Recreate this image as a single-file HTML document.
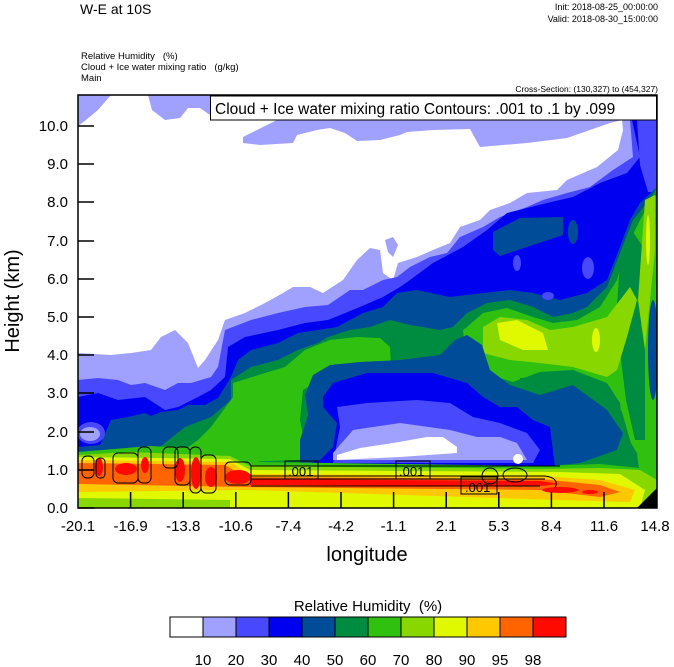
<!DOCTYPE html>
<html><head><meta charset="utf-8"><style>
html,body{margin:0;padding:0;background:#fff;}
svg{display:block;font-family:"Liberation Sans",sans-serif;}
</style></head><body>
<svg width="674" height="667" viewBox="0 0 674 667" xmlns="http://www.w3.org/2000/svg">
<defs><clipPath id="pc"><rect x="78" y="95" width="579" height="413"/></clipPath></defs>
<text x="80" y="14" font-size="14">W-E at 10S</text>
<text x="658" y="10" font-size="9" text-anchor="end">Init: 2018-08-25_00:00:00</text>
<text x="658" y="22" font-size="9" text-anchor="end">Valid: 2018-08-30_15:00:00</text>
<text x="81" y="59" font-size="9.5">Relative Humidity&#160;&#160;&#160;(%)</text>
<text x="81" y="70" font-size="9.5">Cloud + Ice water mixing ratio&#160;&#160;&#160;(g/kg)</text>
<text x="81" y="81" font-size="9.5">Main</text>
<text x="658" y="92" font-size="8.5" text-anchor="end">Cross-Section: (130,327) to (454,327)</text>

<g clip-path="url(#pc)">
<rect x="78" y="95" width="579" height="413" fill="#a0a0ff"/>
<polygon fill="#ffffff" points="111,95 98,110 86,120 78,126 78,353 111,355 131,353 151,350 161,337 175,330 188,343 198,368 205,360 218,340 225,320 245,313 265,303 283,293 293,287 310,287 323,293 343,280 357,260 370,248 380,250 383,273 393,280 398,263 417,257 433,250 450,243 460,227 480,220 490,210 510,203 527,193 557,190 567,180 597,167 618,150 623,130 622,120 610,123 567,138 527,143 480,147 470,129 433,130 407,132 400,135 380,140 357,141 345,133 330,128 317,130 297,135 293,143 260,145 243,143 243,137 257,130 277,120 260,118 210,115 200,108 188,108 180,118 165,120 152,110 148,95"/>
<polygon fill="#a0a0ff" points="385,240 393,237 398,245 393,257 388,252"/>
<polygon fill="#4848ff" points="78,380 98,378 118,380 131,385 145,383 165,390 178,383 191,383 211,377 218,367 225,330 251,320 278,313 305,307 328,305 350,290 363,290 383,280 397,277 410,267 430,257 447,253 460,237 483,227 500,217 527,207 543,200 567,193 590,187 613,170 633,157 630,120 632,95 700,95 700,520 78,520"/>
<polygon fill="#0000f0" points="78,397 98,393 118,400 145,397 165,410 178,407 198,397 211,390 225,377 228,347 245,337 278,330 305,323 328,320 360,307 383,297 400,287 410,280 433,263 463,247 487,230 507,213 547,203 573,197 600,183 627,173 640,157 632,120 630,95 700,95 700,520 78,520"/>
<polygon fill="#4848ff" points="637,120 657,120 657,192 648,192 640,165"/>
<polygon fill="#004c98" points="78,447 100,445 111,420 128,417 145,413 151,416 161,412 178,410 188,405 205,405 218,398 231,377 238,360 251,350 278,343 298,333 318,330 337,327 363,313 383,307 397,293 417,290 450,297 483,293 510,290 533,293 560,300 587,293 607,280 620,247 630,220 640,203 657,187 700,180 700,520 78,520"/>
<ellipse cx="91" cy="433" rx="14" ry="11" fill="#4848ff"/>
<ellipse cx="90" cy="434" rx="10" ry="7" fill="#a0a0ff"/>
<polygon fill="#004c98" points="493,232 520,218 563,217 563,235 530,246 500,256 493,250"/>
<ellipse cx="573" cy="232" rx="5" ry="12" fill="#004c98"/>
<ellipse cx="517" cy="263" rx="4" ry="8" fill="#4848ff"/>
<ellipse cx="588" cy="268" rx="6" ry="11" fill="#4848ff"/>
<ellipse cx="548" cy="296" rx="6" ry="4" fill="#4848ff"/>
<polygon fill="#008c40" points="150,455 185,427 211,417 231,400 231,380 251,367 278,360 298,350 318,343 328,337 350,330 370,327 390,320 410,325 440,330 453,327 467,313 487,303 510,300 533,307 553,317 573,313 587,307 607,287 620,253 633,220 647,203 657,187 700,180 700,520 150,520"/>
<polygon fill="#30c010" points="170,460 198,440 211,427 233,397 233,383 265,373 285,367 305,350 330,340 357,337 380,338 390,347 391,367 380,373 344,373 319,380 303,390 300,420 305,445 300,460 240,462"/>
<polygon fill="#30c010" points="463,330 467,327 483,313 507,308 533,317 553,323 577,320 600,307 617,280 627,247 640,220 653,197 657,195 657,508 640,490 640,477 637,453 623,430 620,403 607,383 573,370 540,372 513,382 480,372 465,350"/>
<polygon fill="#008c40" points="620,262 633,232 645,250 645,440 635,440 626,400 616,320"/>
<polygon fill="#008c40" points="520,378 573,376 607,392 622,412 630,440 640,470 625,470 615,450 600,425 573,398 520,392"/>
<ellipse cx="653" cy="350" rx="5" ry="50" fill="#004c98"/>
<polygon fill="#88d800" points="483,327 500,317 527,320 550,330 573,327 607,317 630,287 637,300 627,337 617,370 607,377 573,367 540,363 510,360 483,353"/>
<polygon fill="#88d800" points="645,200 655,195 655,250 650,300 645,350 638,300"/>
<polygon fill="#e0f800" points="497,323 517,320 543,333 548,350 523,350 500,340"/>
<ellipse cx="596" cy="340" rx="4" ry="12" fill="#e0f800"/>
<ellipse cx="648" cy="240" rx="2" ry="25" fill="#e0f800"/>
<polygon fill="#004c98" points="305,395 313,375 330,365 360,362 400,360 440,355 455,340 467,335 482,345 490,370 510,385 540,395 573,385 607,410 623,433 617,450 580,463 540,467 300,467 300,440 308,415"/>
<polygon fill="#0000f0" points="323,397 333,383 367,373 400,373 433,373 467,383 483,397 500,407 517,407 533,420 550,427 555,467 300,466 320,460 333,447 337,423 323,407"/>
<polygon fill="#4848ff" points="337,407 367,403 417,400 450,403 473,417 500,423 527,433 540,450 533,463 333,463 340,427"/>
<polygon fill="#a0a0ff" points="353,430 400,423 450,430 477,437 500,437 517,443 527,460 333,460 333,453"/>
<polygon fill="#ffffff" points="337,455 360,448 393,443 427,437 443,437 457,447 457,453 400,457 337,460"/>
<circle cx="518" cy="459" r="5" fill="#fff"/>
<polygon fill="#30c010" points="78,452 150,446 230,450 260,462 540,466 600,464 640,468 657,478 657,508 78,508"/>
<polygon fill="#88d800" points="78,455 130,452 230,456 250,466 540,469 600,468 640,470 657,480 657,508 78,508"/>
<polygon fill="#e0f800" points="78,457 230,459 250,470 560,472 620,474 645,490 640,508 78,508"/>
<polygon fill="#88d800" points="78,498 230,500 230,508 78,508"/>
<polygon fill="#ffc800" points="78,460 230,462 250,474 540,476 600,480 635,490 630,502 560,500 250,490 78,492"/>
<polygon fill="#ff6400" points="78,463 225,465 245,477 540,479 600,485 620,492 600,497 540,490 245,487 78,484"/>
<ellipse cx="99" cy="467" rx="4" ry="9" fill="#ff0a00"/>
<ellipse cx="126" cy="469" rx="11" ry="6" fill="#ff0a00"/>
<ellipse cx="145" cy="465" rx="4" ry="8" fill="#ff0a00"/>
<ellipse cx="180" cy="470" rx="5" ry="12" fill="#ff0a00"/>
<ellipse cx="196" cy="473" rx="5" ry="16" fill="#ff0a00"/>
<ellipse cx="211" cy="477" rx="6" ry="10" fill="#ff0a00"/>
<ellipse cx="238" cy="477" rx="13" ry="7" fill="#ff0a00"/>
<polygon fill="#ff0a00" points="250,479 540,481 560,484 540,486 250,485"/>
<ellipse cx="560" cy="490" rx="18" ry="3" fill="#ff0a00"/>
<ellipse cx="590" cy="492" rx="8" ry="2" fill="#ff0a00"/>
<polygon fill="#000" points="637,508 657,488 657,508"/>
<g fill="none" stroke="#000" stroke-width="1">
<rect x="113" y="453" width="25" height="30" rx="5"/>
<rect x="138" y="447" width="13" height="36" rx="5"/>
<rect x="163" y="447" width="15" height="21" rx="5"/>
<rect x="175" y="447" width="15" height="38" rx="5"/>
<rect x="190" y="447" width="11" height="46" rx="5"/>
<rect x="201" y="455" width="15" height="38" rx="5"/>
<rect x="225" y="462" width="26" height="23" rx="5"/>
<rect x="82" y="456" width="12" height="22" rx="5"/>
<rect x="96" y="458" width="9" height="20" rx="4"/>
<path d="M251 466 H560 M251 476 H545 M251 479 H545 M251 486 H540 M545 476 Q560 478 555 488"/>
<ellipse cx="515" cy="475" rx="12" ry="7"/>
<ellipse cx="490" cy="476" rx="8" ry="8"/>
</g>
</g>
<g font-size="13">
<rect x="285" y="461" width="33" height="18" fill="none" stroke="#000"/>
<text x="288" y="476">.001</text>
<rect x="396" y="461" width="34" height="18" fill="none" stroke="#000"/>
<text x="399" y="476">.001</text>
<rect x="461" y="477" width="36" height="17" fill="none" stroke="#000"/>
<text x="465" y="492">.001</text>
</g>
<rect x="78" y="95" width="579" height="413" fill="none" stroke="#000" stroke-width="1.5"/>
<rect x="210.5" y="96" width="446" height="24" fill="#fff" stroke="#000"/>
<text x="215" y="114" font-size="15.5">Cloud + Ice water mixing ratio Contours: .001 to .1 by .099</text>
<g stroke="#000" stroke-width="1.5">
<path d="M78 508h16M78 470h16M78 432h16M78 393h16M78 355h16M78 317h16M78 279h16M78 241h16M78 202h16M78 164h16M78 126h16"/>
<path d="M130.6 508v-16M183.2 508v-16M235.8 508v-16M288.4 508v-16M341 508v-16M393.6 508v-16M446.2 508v-16M498.8 508v-16M551.4 508v-16M604 508v-16"/>
</g>
<g font-size="15" text-anchor="end">
<text x="68" y="513">0.0</text><text x="68" y="475">1.0</text><text x="68" y="437">2.0</text>
<text x="68" y="398">3.0</text><text x="68" y="360">4.0</text><text x="68" y="322">5.0</text>
<text x="68" y="284">6.0</text><text x="68" y="246">7.0</text><text x="68" y="207">8.0</text>
<text x="68" y="169">9.0</text><text x="68" y="131">10.0</text>
</g>
<g font-size="15" text-anchor="middle">
<text x="78" y="531">-20.1</text><text x="130.6" y="531">-16.9</text><text x="183.2" y="531">-13.8</text>
<text x="235.8" y="531">-10.6</text><text x="288.4" y="531">-7.4</text><text x="341" y="531">-4.2</text>
<text x="393.6" y="531">-1.1</text><text x="446.2" y="531">2.1</text><text x="498.8" y="531">5.3</text>
<text x="551.4" y="531">8.4</text><text x="604" y="531">11.6</text><text x="655" y="531">14.8</text>
</g>
<text x="367" y="561" font-size="20" text-anchor="middle">longitude</text>
<text transform="translate(19,301) rotate(-90)" font-size="20" text-anchor="middle">Height (km)</text>
<text x="368" y="611" font-size="15" text-anchor="middle">Relative Humidity&#160;&#160;(%)</text>
<g stroke="#000" stroke-width="1">
<rect x="170" y="617" width="33" height="20" fill="#ffffff"/>
<rect x="203" y="617" width="33" height="20" fill="#a0a0ff"/>
<rect x="236" y="617" width="33" height="20" fill="#4848ff"/>
<rect x="269" y="617" width="33" height="20" fill="#0000f0"/>
<rect x="302" y="617" width="33" height="20" fill="#004c98"/>
<rect x="335" y="617" width="33" height="20" fill="#008c40"/>
<rect x="368" y="617" width="33" height="20" fill="#30c010"/>
<rect x="401" y="617" width="33" height="20" fill="#88d800"/>
<rect x="434" y="617" width="33" height="20" fill="#e0f800"/>
<rect x="467" y="617" width="33" height="20" fill="#ffc800"/>
<rect x="500" y="617" width="33" height="20" fill="#ff6400"/>
<rect x="533" y="617" width="33" height="20" fill="#ff0a00"/>
</g>
<g font-size="15" text-anchor="middle">
<text x="203" y="665">10</text><text x="236" y="665">20</text><text x="269" y="665">30</text>
<text x="302" y="665">40</text><text x="335" y="665">50</text><text x="368" y="665">60</text>
<text x="401" y="665">70</text><text x="434" y="665">80</text><text x="467" y="665">90</text>
<text x="500" y="665">95</text><text x="533" y="665">98</text>
</g>
</svg>
</body></html>
